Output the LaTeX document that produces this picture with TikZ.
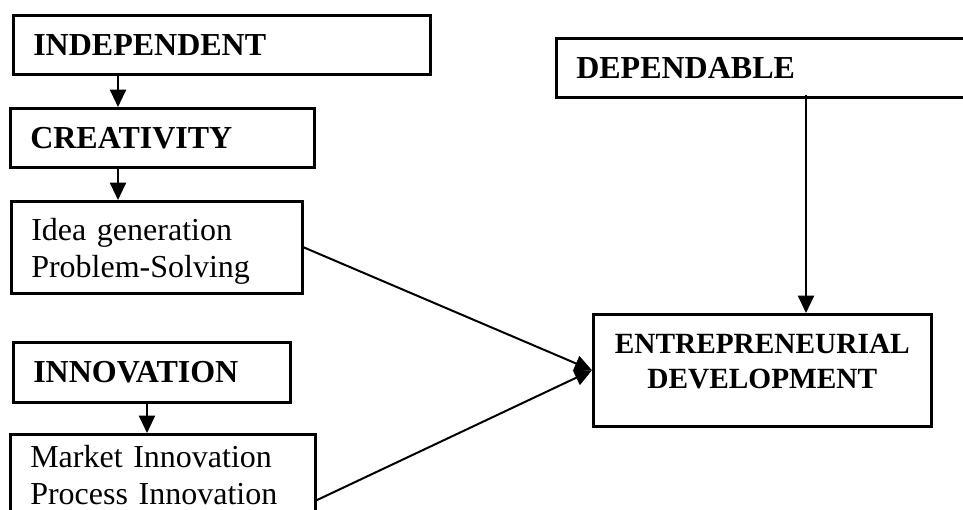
\documentclass[tikz,border=0pt]{standalone}
\usepackage{fontspec}
\setmainfont{Liberation Serif}
\usetikzlibrary{arrows.meta,positioning}
\tikzset{
  box/.style={draw,line width=1.9pt,anchor=north west,inner xsep=15pt,align=left,font=\fontsize{24pt}{27.5pt}\selectfont},
  arr/.style={-{Triangle[length=13pt,width=12pt]},line width=1.5pt}
}
\begin{document}
\begin{tikzpicture}[x=0.75pt,y=-0.75pt]
	\useasboundingbox (0,0) rectangle (963,510);\clip (0,0) rectangle (963,510);
	\node[box,text width=282.75pt,minimum height=44.25pt] (indep) at (12,14) {\textbf{INDEPENDENT}};
	\node[box,text width=198pt,minimum height=44.25pt] (creat) at (9,107) {\textbf{CREATIVITY}};
	\node[box,text width=188.25pt,minimum height=69pt,text depth=27pt] (idea) at (10,200) {Idea generation\\Problem-Solving};
	\node[box,text width=177.75pt,minimum height=45pt] (innov) at (12,341) {\textbf{INNOVATION}};
	\node[box,text width=198.75pt,minimum height=63pt,text depth=30pt] (market) at (9,433) {Market Innovation\\Process Innovation};
	\node[box,text width=303.75pt,minimum height=44.25pt] (dep) at (555,37) {\textbf{DEPENDABLE}};
	\node[box,align=center,inner xsep=8pt,text width=237.5pt,minimum height=84pt,text depth=39pt,font=\fontsize{22pt}{26pt}\selectfont] (entre) at (592,313) {\textbf{ENTREPRENEURIAL}\\\textbf{DEVELOPMENT}};
	\coordinate (colA) at (118,0);\coordinate (colB) at (147,0);\coordinate (colC) at (806,0);
	\draw[arr] (indep.south -| colA)--(creat.north -| colA);
	\draw[arr] (creat.south -| colA)--(idea.north -| colA);
	\draw[arr] (innov.south -| colB)--(market.north -| colB);
	\draw[arr] ([yshift=3pt]dep.south -| colC)--(entre.north -| colC);
	\draw[arr] (idea.east)--(entre.west);
	\draw[arr] ([yshift=-18pt]market.east)--(entre.west);
\end{tikzpicture}
\end{document}
